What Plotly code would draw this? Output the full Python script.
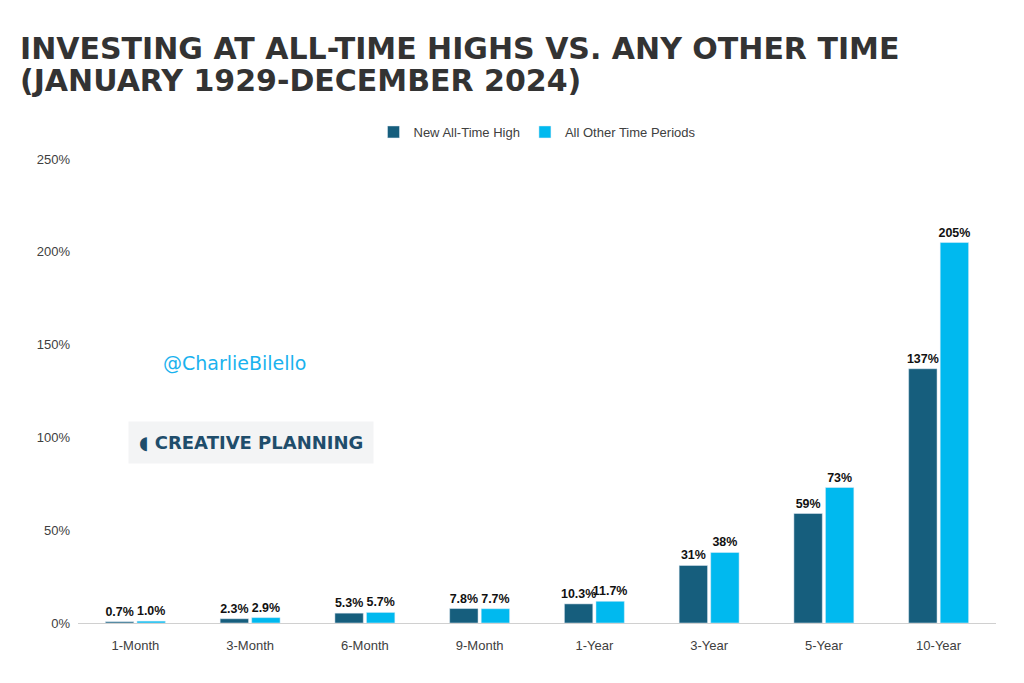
import plotly.graph_objects as go

periods = ["1-Month", "3-Month", "6-Month", "9-Month", "1-Year", "3-Year", "5-Year", "10-Year"]
ath = [0.7, 2.3, 5.3, 7.8, 10.3, 31, 59, 137]
other = [1.0, 2.9, 5.7, 7.7, 11.7, 38, 73, 205]
ath_labels = ["0.7%", "2.3%", "5.3%", "7.8%", "10.3%", "31%", "59%", "137%"]
other_labels = ["1.0%", "2.9%", "5.7%", "7.7%", "11.7%", "38%", "73%", "205%"]

fig = go.Figure()
fig.add_trace(go.Bar(x=periods, y=ath, name="New All-Time High", marker_color="#165E7D",
                     text=ath_labels, textposition="outside", cliponaxis=False))
fig.add_trace(go.Bar(x=periods, y=other, name="All Other Time Periods", marker_color="#00B9EF",
                     text=other_labels, textposition="outside", cliponaxis=False))

fig.update_traces(texttemplate="<b>%{text}</b>",
                  textfont=dict(family="Liberation Sans Narrow, Liberation Sans", size=12.5, color="#111"),
                  textangle=0)

fig.update_layout(
    width=1024, height=683,
    paper_bgcolor="white", plot_bgcolor="white",
    barmode="group", bargap=0.45, bargroupgap=0.1,
    uniformtext=dict(minsize=12, mode="show"),
    margin=dict(l=70, r=36, t=151, b=68),
    font=dict(family="Liberation Sans", size=13, color="#404040"),
    legend=dict(orientation="h", x=0.5, xanchor="center", y=1 + 27 / 464, yanchor="middle",
                font=dict(size=13, color="#404040"), itemwidth=30),
    showlegend=True,
)
fig.update_yaxes(range=[0, 250], dtick=50, ticksuffix="%", showgrid=False, zeroline=False,
                 showline=False, ticks="", ticklabelstandoff=7)
fig.update_xaxes(showline=True, linecolor="#d0d0d0", ticks="", ticklabelstandoff=10,
                 tickfont=dict(size=13, color="#404040"))

title_lines = ["INVESTING AT ALL-TIME HIGHS VS. ANY OTHER TIME", "(JANUARY 1929-DECEMBER 2024)"]
for i, line in enumerate(title_lines):
    fig.add_annotation(text="<b>" + line + "</b>", xref="paper", yref="paper",
                       x=-60 / 918, y=1.0 + (151 - 40 - 33 * i) / (683 - 151 - 68),
                       xanchor="left", yanchor="middle", showarrow=False,
                       font=dict(family="DejaVu Sans", size=30, color="#333333"))

fig.add_annotation(text="@CharlieBilello", xref="paper", yref="paper", x=0.09, y=0.56,
                   xanchor="left", showarrow=False,
                   font=dict(family="Comic Sans MS, DejaVu Sans", size=19, color="#1AB2EE"))
fig.add_annotation(text="<b>◖ CREATIVE PLANNING</b>", xref="paper", yref="paper", x=0.055, y=0.39,
                   xanchor="left", showarrow=False, bgcolor="#f3f4f5", borderpad=10,
                   font=dict(family="DejaVu Sans", size=18, color="#1F4D6B"))

fig.write_html("out.html")
